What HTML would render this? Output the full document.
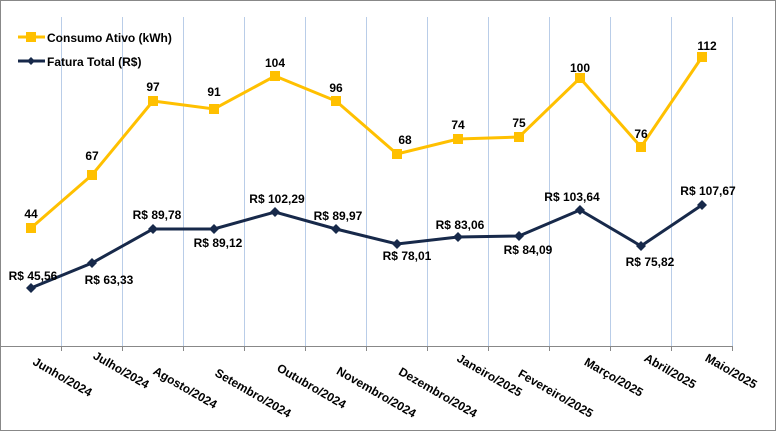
<!DOCTYPE html>
<html><head><meta charset="utf-8"><style>
body{margin:0;background:#fff;}
svg{display:block;font-family:"Liberation Sans",sans-serif;font-weight:bold;}
</style></head><body>
<svg width="776" height="431" viewBox="0 0 776 431">
<rect x="0.5" y="0.5" width="775" height="430" fill="#fff" stroke="#888" stroke-width="1"/>
<g stroke="#b9cde8" stroke-width="1">
<line x1="61.5" y1="17" x2="61.5" y2="346"/><line x1="122.5" y1="17" x2="122.5" y2="346"/><line x1="183.5" y1="17" x2="183.5" y2="346"/><line x1="244.5" y1="17" x2="244.5" y2="346"/><line x1="305.5" y1="17" x2="305.5" y2="346"/><line x1="366.5" y1="17" x2="366.5" y2="346"/><line x1="427.5" y1="17" x2="427.5" y2="346"/><line x1="488.5" y1="17" x2="488.5" y2="346"/><line x1="549.5" y1="17" x2="549.5" y2="346"/><line x1="610.5" y1="17" x2="610.5" y2="346"/><line x1="671.5" y1="17" x2="671.5" y2="346"/><line x1="732.5" y1="17" x2="732.5" y2="346"/>
</g>
<line x1="0" y1="346.5" x2="733" y2="346.5" stroke="#888"/>
<g stroke="#888">
<line x1="61.5" y1="346" x2="61.5" y2="351"/><line x1="122.5" y1="346" x2="122.5" y2="351"/><line x1="183.5" y1="346" x2="183.5" y2="351"/><line x1="244.5" y1="346" x2="244.5" y2="351"/><line x1="305.5" y1="346" x2="305.5" y2="351"/><line x1="366.5" y1="346" x2="366.5" y2="351"/><line x1="427.5" y1="346" x2="427.5" y2="351"/><line x1="488.5" y1="346" x2="488.5" y2="351"/><line x1="549.5" y1="346" x2="549.5" y2="351"/><line x1="610.5" y1="346" x2="610.5" y2="351"/><line x1="671.5" y1="346" x2="671.5" y2="351"/><line x1="732.5" y1="346" x2="732.5" y2="351"/>
</g>
<!-- Consumo -->
<polyline fill="none" stroke="#ffc000" stroke-width="3" points="31,228 92,175 153,101 214,109 275,76 336,101 397,154 458,139 519,137 580,78 641,147 702,57"/>
<g fill="#ffc000">
<rect x="26" y="223" width="10" height="10"/><rect x="87" y="170" width="10" height="10"/><rect x="148" y="96" width="10" height="10"/><rect x="209" y="104" width="10" height="10"/><rect x="270" y="71" width="10" height="10"/><rect x="331" y="96" width="10" height="10"/><rect x="392" y="149" width="10" height="10"/><rect x="453" y="134" width="10" height="10"/><rect x="514" y="132" width="10" height="10"/><rect x="575" y="73" width="10" height="10"/><rect x="636" y="142" width="10" height="10"/><rect x="697" y="52" width="10" height="10"/>
</g>
<!-- Fatura -->
<polyline fill="none" stroke="#17294a" stroke-width="3" points="31,288 92,263 153,229 214,229 275,212 336,229 397,244 458,237 519,236 580,210 641,246 702,205"/>
<g fill="#17294a">
<path d="M31,283l5,5l-5,5l-5,-5z"/><path d="M92,258l5,5l-5,5l-5,-5z"/><path d="M153,224l5,5l-5,5l-5,-5z"/><path d="M214,224l5,5l-5,5l-5,-5z"/><path d="M275,207l5,5l-5,5l-5,-5z"/><path d="M336,224l5,5l-5,5l-5,-5z"/><path d="M397,239l5,5l-5,5l-5,-5z"/><path d="M458,232l5,5l-5,5l-5,-5z"/><path d="M519,231l5,5l-5,5l-5,-5z"/><path d="M580,205l5,5l-5,5l-5,-5z"/><path d="M641,241l5,5l-5,5l-5,-5z"/><path d="M702,200l5,5l-5,5l-5,-5z"/>
</g>
<g font-size="12" fill="#000" text-anchor="middle">
<text x="31" y="218">44</text><text x="92" y="160">67</text><text x="153" y="91">97</text><text x="214" y="96">91</text><text x="275" y="67">104</text><text x="336" y="92">96</text><text x="405" y="144">68</text><text x="458" y="129">74</text><text x="519" y="127">75</text><text x="580" y="72">100</text><text x="641" y="138">76</text><text x="707" y="50">112</text>
<text x="33" y="280">R$ 45,56</text><text x="109" y="284">R$ 63,33</text><text x="157" y="219">R$ 89,78</text><text x="218" y="247">R$ 89,12</text><text x="277" y="203">R$ 102,29</text><text x="338" y="220">R$ 89,97</text><text x="407" y="260">R$ 78,01</text><text x="460" y="229">R$ 83,06</text><text x="528" y="254">R$ 84,09</text><text x="572" y="201">R$ 103,64</text><text x="650" y="266">R$ 75,82</text><text x="708" y="195">R$ 107,67</text>
</g>
<g font-size="12" fill="#000" text-anchor="end">
<text transform="translate(89,397) rotate(30)">Junho/2024</text>
<text transform="translate(146,389) rotate(30)">Julho/2024</text>
<text transform="translate(214,409) rotate(30)">Agosto/2024</text>
<text transform="translate(288,418) rotate(30)">Setembro/2024</text>
<text transform="translate(343,409) rotate(30)">Outubro/2024</text>
<text transform="translate(413,418) rotate(30)">Novembro/2024</text>
<text transform="translate(474,418) rotate(30)">Dezembro/2024</text>
<text transform="translate(519,397) rotate(30)">Janeiro/2025</text>
<text transform="translate(590,418) rotate(30)">Fevereiro/2025</text>
<text transform="translate(640,397) rotate(30)">Março/2025</text>
<text transform="translate(693,389) rotate(30)">Abril/2025</text>
<text transform="translate(754,389) rotate(30)">Maio/2025</text>
</g>
<!-- legend -->
<line x1="18" y1="37" x2="45" y2="37" stroke="#ffc000" stroke-width="3"/>
<rect x="26" y="32" width="10" height="10" fill="#ffc000"/>
<text x="47" y="42" font-size="12" fill="#000">Consumo Ativo (kWh)</text>
<line x1="18" y1="61" x2="45" y2="61" stroke="#17294a" stroke-width="3"/>
<path d="M31,57l4,4l-4,4l-4,-4z" fill="#17294a"/>
<text x="47" y="66" font-size="12" fill="#000">Fatura Total (R$)</text>
</svg>
</body></html>
